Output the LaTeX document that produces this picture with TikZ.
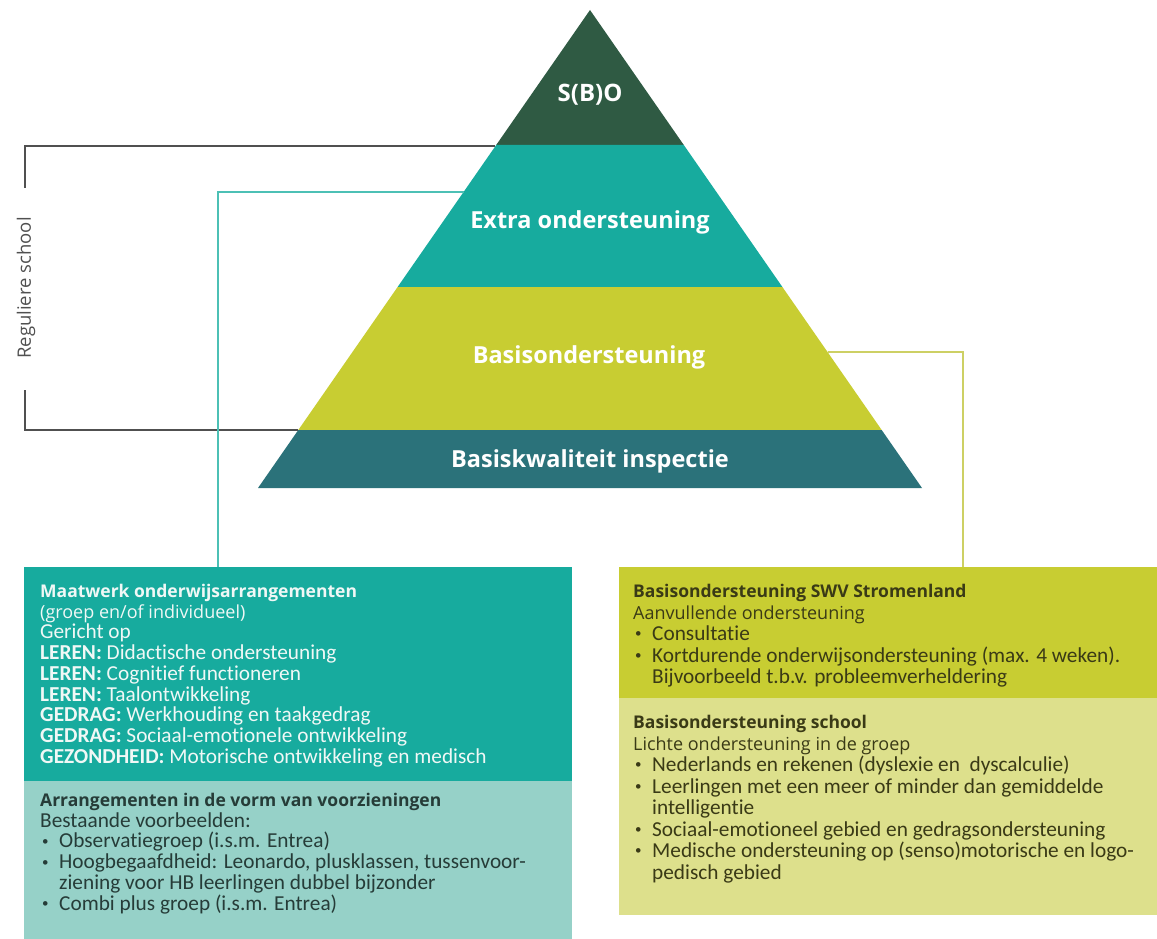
\documentclass[tikz,border=0pt]{standalone}
\usepackage{fontspec}
\setmainfont{Carlito}[Ligatures=NoCommon]
\newfontfamily\headfont{Open Sans}

\newcommand{\boxhead}[1]{{\headfont\bfseries\fontsize{17.5}{20.7}\selectfont #1}}
\newcommand{\boxsub}[1]{{\headfont\fontsize{18}{20.7}\selectfont #1}}
\newcommand{\bul}{\hspace*{2pt}\makebox[17pt][l]{\raisebox{0.12em}{\fontsize{13}{13}\selectfont\textbullet}}}
\newcommand{\ind}{\hspace*{19pt}}

\begin{document}
\begin{tikzpicture}[x=1pt,y=-1pt,
  pyrlabel/.style={text=white,inner sep=0pt,font=\headfont\bfseries\fontsize{23.5}{26}\selectfont},
  boxtext/.style={anchor=north west,inner sep=0pt,align=left,font=\fontsize{21.3}{20.7}\selectfont},
  widetext/.style={boxtext,font=\fontsize{21.3}{21.5}\selectfont},
  boxfill/.style={anchor=north west,inner sep=0pt,draw=none},
  bracketline/.style={draw=bracketcolor,line width=1.6pt},
  tealline/.style={draw=tealline,line width=1.3pt},
  limeline/.style={draw=limeline,line width=1.3pt}]
\definecolor{sbocolor}{RGB}{47,90,67}
\definecolor{extracolor}{RGB}{23,171,158}
\definecolor{basiscolor}{RGB}{200,205,50}
\definecolor{inspcolor}{RGB}{43,114,122}
\definecolor{lightteal}{RGB}{150,209,200}
\definecolor{lightlime}{RGB}{221,224,140}
\definecolor{bracketcolor}{RGB}{80,80,80}
\definecolor{tealline}{RGB}{76,192,181}
\definecolor{limeline}{RGB}{205,208,100}
\definecolor{tealtext}{RGB}{38,60,56}
\definecolor{limetext}{RGB}{58,58,22}
\definecolor{palewhite}{RGB}{240,248,246}
\useasboundingbox (0,0) rectangle (1157,939);

% pyramid layers
\fill[sbocolor] (590,10)--(496.2,145)--(683.8,145)--cycle;
\fill[extracolor] (496.2,145)--(397.6,287)--(782.4,287)--(683.8,145)--cycle;
\fill[basiscolor] (397.6,287)--(298.3,430)--(881.7,430)--(782.4,287)--cycle;
\fill[inspcolor] (298.3,430)--(258,488)--(922,488)--(881.7,430)--cycle;
\node[pyrlabel,font=\headfont\bfseries\fontsize{24}{26}\selectfont] (sbo) at (590,95) {S(B)O};
\node[pyrlabel] (extra) at (590,222) {Extra ondersteuning};
\node[pyrlabel] (basis) at (589,357) {Basisondersteuning};
\node[pyrlabel] (insp) at (590,461) {Basiskwaliteit inspectie};

% boxes
\node[boxfill,fill=extracolor,minimum width=548pt,minimum height=214pt] (maatbox) at (24,567) {};
\node[boxfill,fill=lightteal,minimum width=548pt,minimum height=158pt] (voorzbox) at (24,781) {};
\node[boxfill,fill=basiscolor,minimum width=538pt,minimum height=131pt] (swvbox) at (619,567) {};
\node[boxfill,fill=lightlime,minimum width=538pt,minimum height=217pt] (schoolbox) at (619,698) {};

% connectors
\coordinate (sboL) at (494.8,146);
\coordinate (inspL) at (298.3,430);
\coordinate (regtop) at (25,188);
\coordinate (regbot) at (25,390);
\coordinate (extraL) at (463.6,192);
\coordinate (maattop) at (218,567);
\coordinate (basisR) at (827.5,352);
\coordinate (swvtop) at (963,567);
\draw[bracketline] (sboL) -| (regtop);
\draw[bracketline] (inspL) -| (regbot);
\draw[tealline] (extraL) -| (maattop);
\draw[limeline] (basisR) -| (swvtop);
\node[rotate=90,text=bracketcolor,font=\headfont\fontsize{18.5}{20}\selectfont] (reg) at (26,288) {Reguliere school};

% box texts
\node[boxtext,text=palewhite] (maattxt) at (40,584) {%
\boxhead{Maatwerk onderwijsarrangementen}\\
\boxsub{(groep en/of individueel)}\\
Gericht op\\
\textbf{LEREN:} Didactische ondersteuning\\
\textbf{LEREN:} Cognitief functioneren\\
\textbf{LEREN:} Taalontwikkeling\\
\textbf{GEDRAG:} Werkhouding en taakgedrag\\
\textbf{GEDRAG:} Sociaal-emotionele ontwikkeling\\
\textbf{GEZONDHEID:} Motorische ontwikkeling en medisch};
\node[boxtext,text=tealtext] (voorztxt) at (40,793) {%
\boxhead{Arrangementen in de vorm van voorzieningen}\\
Bestaande voorbeelden:\\
\bul Observatiegroep (i.s.m. Entrea)\\
\bul Hoogbegaafdheid: Leonardo, plusklassen, tussenvoor-\\
\ind ziening voor HB leerlingen dubbel bijzonder\\
\bul Combi plus groep (i.s.m. Entrea)};
\node[widetext,text=limetext] (swvtxt) at (633,584) {%
\boxhead{Basisondersteuning SWV Stromenland}\\
\boxsub{Aanvullende ondersteuning}\\
\bul Consultatie\\
\bul Kortdurende onderwijsondersteuning (max. 4 weken).\\
\ind Bijvoorbeeld t.b.v. probleemverheldering};
\node[widetext,text=limetext] (schooltxt) at (633,715) {%
\boxhead{Basisondersteuning school}\\
\boxsub{Lichte ondersteuning in de groep}\\
\bul Nederlands en rekenen (dyslexie en\ \ dyscalculie)\\
\bul Leerlingen met een meer of minder dan gemiddelde\\
\ind intelligentie\\
\bul Sociaal-emotioneel gebied en gedragsondersteuning\\
\bul Medische ondersteuning op (senso)motorische en logo-\\
\ind pedisch gebied};
\end{tikzpicture}
\end{document}
